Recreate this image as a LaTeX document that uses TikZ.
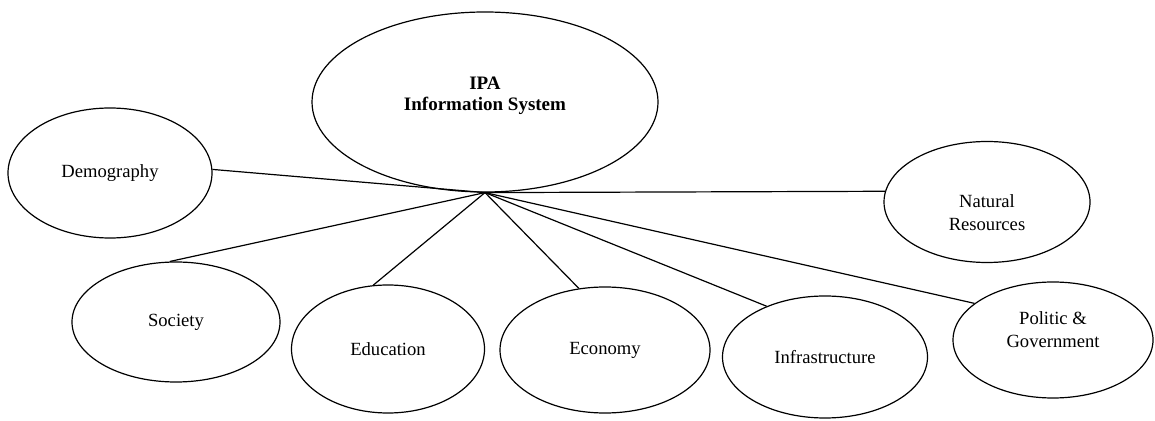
\documentclass[tikz,border=0pt]{standalone}
\usepackage{fontspec}
\setmainfont{Liberation Serif}
\usepackage{tikz}
\usetikzlibrary{shapes.geometric}

\tikzset{
  bubble/.style={ellipse, draw, line width=0.6pt, inner sep=0pt,
    align=center, font=\fontsize{9.3}{11.7}\selectfont},
  spoke/.style={line width=0.6pt}
}

\begin{document}
\begin{tikzpicture}[x=0.5pt,y=-0.5pt]
  \useasboundingbox
    (0,0)
    rectangle
    (1155,421);
  \node[bubble, minimum width=173pt, minimum height=90pt,
        text height=17pt, text depth=8pt,
        font=\fontsize{9.5}{10.5}\selectfont\bfseries]
    (ipa) at (485,102) {IPA\\Information System};
  \node[bubble, minimum width=102pt, minimum height=65pt]
    (demo) at (110,173) {Demography};
  \node[bubble, minimum width=103pt, minimum height=60.5pt,
        text height=29pt, text depth=0pt]
    (nat) at (987,202) {Natural\\Resources};
  \node[bubble, minimum width=104pt, minimum height=60pt]
    (soc) at (176,322) {Society};
  \node[bubble, minimum width=96.5pt, minimum height=64pt]
    (edu) at (388,349) {Education};
  \node[bubble, minimum width=105pt, minimum height=63pt]
    (eco) at (605,350) {Economy};
  \node[bubble, minimum width=102.5pt, minimum height=61pt]
    (infra) at (825,357) {Infrastructure};
  \node[bubble, minimum width=100pt, minimum height=58pt,
        text height=18pt, text depth=10pt]
    (pol) at (1053,340) {Politic \&\\Government};
  \coordinate (hub) at (ipa.south);
  \draw[spoke] (hub) -- (demo.2);
  \draw[spoke] (hub) -- (nat.174.5);
  \draw[spoke] (hub) -- (soc.96);
  \draw[spoke] (hub) -- (edu.103);
  \draw[spoke] (hub) -- (eco.113);
  \draw[spoke] (hub) -- (infra.139);
  \draw[spoke] (hub) -- (pol.155.5);
\end{tikzpicture}
\end{document}
